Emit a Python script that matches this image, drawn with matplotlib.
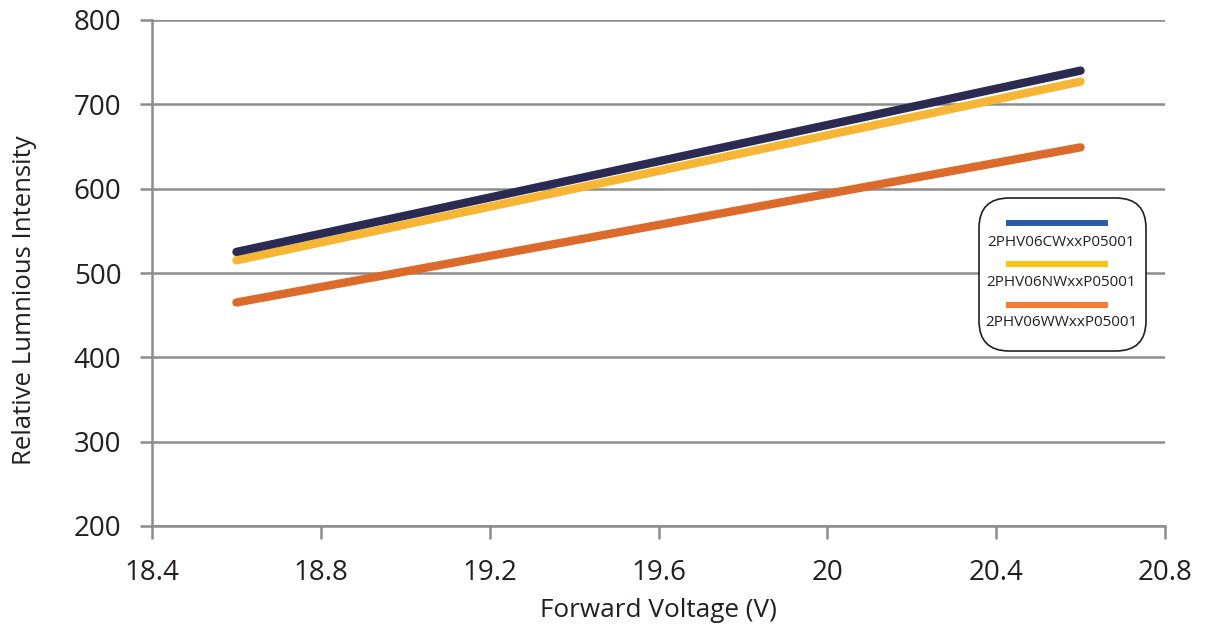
import matplotlib.pyplot as plt
from matplotlib.patches import FancyBboxPatch

plt.rcParams['font.family'] = ['Open Sans', 'DejaVu Sans']

voltage = [18.6, 20.6]
cw = [525, 740]
nw = [515, 727]
ww = [465, 649]

names = ['2PHV06CWxxP05001', '2PHV06NWxxP05001', '2PHV06WWxxP05001']
line_colors = ['#2b2a52', '#f6b533', '#dc6a2a']
key_colors = ['#2d5aa8', '#fdc312', '#f47c33']

xticks = [18.4, 18.8, 19.2, 19.6, 20, 20.4, 20.8]
xtick_labels = ['18.4', '18.8', '19.2', '19.6', '20', '20.4', '20.8']
yticks = [200, 300, 400, 500, 600, 700, 800]

grey = '#8c8c8c'
ink = '#231f20'

fig = plt.figure(figsize=(12.07, 6.3), dpi=100)
ax = fig.add_axes([152 / 1207, 1 - 526 / 630, (1165 - 152) / 1207, (526 - 20) / 630])

# orange first so the navy/yellow pair sits on top
for ys, c in zip([ww, nw, cw], line_colors[::-1]):
    ax.plot(voltage, ys, color=c, lw=6, solid_capstyle='round', zorder=3)

ax.set_xlim(18.4, 20.8)
ax.set_ylim(200, 800)
ax.set_xticks(xticks)
ax.set_xticklabels(xtick_labels)
ax.set_yticks(yticks)
ax.yaxis.grid(True, color=grey, lw=1.8)
ax.set_axisbelow(True)

for s in ['top', 'right']:
    ax.spines[s].set_visible(False)
for s in ['left', 'bottom']:
    ax.spines[s].set_color(grey)
    ax.spines[s].set_linewidth(1.8)
ax.tick_params(axis='both', colors=grey, width=1.8, length=9, labelsize=20,
               labelcolor=ink)
ax.tick_params(axis='x', pad=15)
ax.tick_params(axis='y', pad=13)

ax.set_xlabel('Forward Voltage (V)', fontsize=18.8, color=ink)
ax.set_ylabel('Relative Lumnious Intensity', fontsize=18.5, color=ink)
ax.xaxis.set_label_coords(0.5, -0.142)
ax.yaxis.set_label_coords(-0.114, 0.447)

# key box: short swatch above each label
bx0, by0 = 979 / 1207, 1 - 351 / 630
bw, bh = (1146 - 979) / 1207, (351 - 198) / 630
box = FancyBboxPatch((bx0, by0), bw, bh, boxstyle='round,pad=0,rounding_size=0.025',
                     transform=fig.transFigure, facecolor='white', edgecolor=ink,
                     lw=1.2, mutation_aspect=1207 / 630, zorder=5)
fig.patches.append(box)
for i, (n, c) in enumerate(zip(names, key_colors)):
    ys = 1 - (222.5 + i * 41) / 630
    fig.add_artist(plt.Line2D([1009 / 1207, 1105 / 1207], [ys, ys], color=c, lw=4.3,
                              transform=fig.transFigure, zorder=6))
    fig.text(1061 / 1207, 1 - (243 + i * 40) / 630, n, ha='center', va='center',
             fontsize=11, color=ink, zorder=6)

fig.savefig('out.png', dpi=100)
